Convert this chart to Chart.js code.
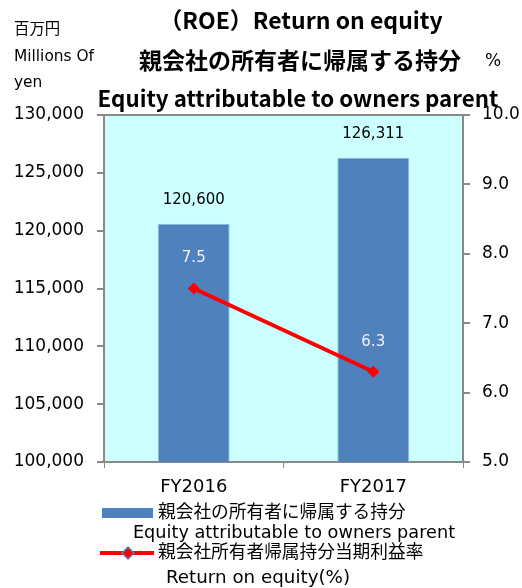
<!DOCTYPE html>
<html>
<head>
<meta charset="utf-8">
<script src="https://cdn.jsdelivr.net/npm/chart.js@4/dist/chart.umd.min.js"></script>
<style>
  body { margin: 0; background: #fff; }
</style>
</head>
<body>
<canvas id="myChart" width="522" height="588"></canvas>
<script>
const years = ['FY2016', 'FY2017'];
const equity = [120600, 126311];
const roe = [7.5, 6.3];
const equityTicks = [100000, 130000, 5000];   // min, max, step
const roeTicks = [5, 10, 1];
const titleLines = ['（ROE）Return on equity', '親会社の所有者に帰属する持分', 'Equity attributable to owners parent'];
const unitLeft = ['百万円', 'Millions Of', 'yen'];
const unitRight = '%';
const legendBar = ['親会社の所有者に帰属する持分', 'Equity attributable to owners parent'];
const legendLine = ['親会社所有者帰属持分当期利益率', 'Return on equity(%)'];

const FONT = "'DejaVu Sans', 'Noto Sans CJK JP', sans-serif";
const TITLE_FONT = "'Noto Sans CJK JP', sans-serif";
const BAR_COLOR = '#4F81BD';
const LINE_COLOR = '#FF0000';
const AXIS_COLOR = '#898989';

// cyan plot background + top frame line
const plotBg = {
  id: 'plotBg',
  beforeDraw(chart) {
    const { ctx, chartArea: a } = chart;
    ctx.save();
    ctx.fillStyle = '#CCFFFF';
    ctx.fillRect(a.left, a.top, a.right - a.left, a.bottom - a.top);
    ctx.strokeStyle = AXIS_COLOR;
    ctx.lineWidth = 2;
    ctx.beginPath();
    ctx.moveTo(a.left, a.top);
    ctx.lineTo(a.right, a.top);
    ctx.stroke();
    ctx.restore();
  }
};

// value labels
const valueLabels = {
  id: 'valueLabels',
  afterDatasetsDraw(chart) {
    const ctx = chart.ctx;
    ctx.save();
    ctx.font = '15px ' + FONT;
    ctx.textAlign = 'center';
    ctx.textBaseline = 'middle';
    chart.getDatasetMeta(0).data.forEach((el, i) => {
      ctx.fillStyle = '#000';
      ctx.fillText(equity[i].toLocaleString('en-US'), el.x, el.y - 24);
    });
    chart.getDatasetMeta(1).data.forEach((el, i) => {
      ctx.fillStyle = '#F2F2F2';
      ctx.fillText(roe[i].toFixed(1), el.x, el.y - 30);
    });
    ctx.restore();
  }
};

// titles, unit labels and the legend
const extraText = {
  id: 'extraText',
  afterDraw(chart) {
    const ctx = chart.ctx;
    ctx.save();
    ctx.fillStyle = '#000';
    ctx.textBaseline = 'middle';

    ctx.textAlign = 'center';
    ctx.font = 'bold 23px ' + TITLE_FONT;
    ctx.fillText(titleLines[0], 301, 20);
    ctx.fillText(titleLines[1], 300, 60);
    ctx.font = 'bold 22.3px ' + TITLE_FONT;
    ctx.fillText(titleLines[2], 298, 99);

    ctx.textAlign = 'left';
    ctx.font = '15.4px ' + FONT;
    ctx.fillText(unitLeft[0], 14, 30);
    ctx.fillText(unitLeft[1], 14, 57);
    ctx.fillText(unitLeft[2], 14, 83);
    ctx.textAlign = 'center';
    ctx.font = '17px ' + FONT;
    ctx.fillText(unitRight, 493, 62);

    // legend
    ctx.fillStyle = BAR_COLOR;
    ctx.fillRect(102, 508, 51, 10);
    ctx.strokeStyle = LINE_COLOR;
    ctx.lineWidth = 4;
    ctx.beginPath();
    ctx.moveTo(100, 553);
    ctx.lineTo(154, 553);
    ctx.stroke();
    ctx.beginPath();
    ctx.moveTo(128, 547); ctx.lineTo(134, 553); ctx.lineTo(128, 559); ctx.lineTo(122, 553);
    ctx.closePath();
    ctx.fillStyle = LINE_COLOR;
    ctx.fill();
    ctx.strokeStyle = BAR_COLOR;
    ctx.lineWidth = 1.5;
    ctx.stroke();

    ctx.fillStyle = '#000';
    ctx.font = '17.7px ' + FONT;
    ctx.textAlign = 'left';
    ctx.fillText(legendBar[0], 158, 513);
    ctx.fillText(legendLine[0], 158, 553);
    ctx.textAlign = 'center';
    ctx.fillText(legendBar[1], 294, 533);
    ctx.font = '18.3px ' + FONT;
    ctx.fillText(legendLine[1], 258, 578);
    ctx.restore();
  }
};

const ctx = document.getElementById('myChart');
const myChart = new Chart(ctx, {
  type: 'bar',
  data: {
    labels: years,
    datasets: [{
      type: 'bar',
      label: legendBar.join(' '),
      data: equity,
      yAxisID: 'y',
      backgroundColor: BAR_COLOR,
      borderColor: '#8DB4E2',
      borderWidth: 1,
      barPercentage: 0.4,
      categoryPercentage: 1.0,
      order: 1
    }, {
      type: 'line',
      label: legendLine.join(' '),
      data: roe,
      yAxisID: 'y1',
      borderColor: LINE_COLOR,
      backgroundColor: LINE_COLOR,
      borderWidth: 4,
      pointStyle: 'rectRot',
      pointRadius: 6,
      pointBackgroundColor: LINE_COLOR,
      pointBorderColor: LINE_COLOR,
      pointBorderWidth: 0,
      order: 0
    }]
  },
  options: {
    responsive: false,
    animation: false,
    layout: { padding: { top: 115, left: 0, right: 0, bottom: 0 } },
    plugins: {
      legend: { display: false },
      title: { display: false },
      tooltip: { enabled: false }
    },
    scales: {
      x: {
        grid: { drawOnChartArea: false, color: AXIS_COLOR, tickLength: 6, offset: true },
        border: { color: AXIS_COLOR, width: 2 },
        ticks: { color: '#000', font: { size: 18, family: FONT }, padding: 9 },
        afterFit(scale) { scale.height = 126; }
      },
      y: {
        position: 'left',
        min: equityTicks[0], max: equityTicks[1],
        grid: { drawOnChartArea: false, color: AXIS_COLOR, tickLength: 7, lineWidth: 2 },
        border: { color: AXIS_COLOR, width: 2 },
        ticks: {
          stepSize: equityTicks[2],
          color: '#000',
          font: { size: 17, family: FONT },
          padding: 13,
          callback: v => v.toLocaleString('en-US')
        },
        afterFit(scale) { scale.width = 104; }
      },
      y1: {
        position: 'right',
        min: roeTicks[0], max: roeTicks[1],
        grid: { drawOnChartArea: false, color: AXIS_COLOR, tickLength: 7, lineWidth: 2 },
        border: { color: AXIS_COLOR, width: 2 },
        ticks: {
          stepSize: roeTicks[2],
          color: '#000',
          font: { size: 17, family: FONT },
          padding: 12,
          callback: v => v.toFixed(1)
        },
        afterFit(scale) { scale.width = 59; }
      }
    }
  },
  plugins: [plotBg, valueLabels, extraText]
});
</script>
</body>
</html>
